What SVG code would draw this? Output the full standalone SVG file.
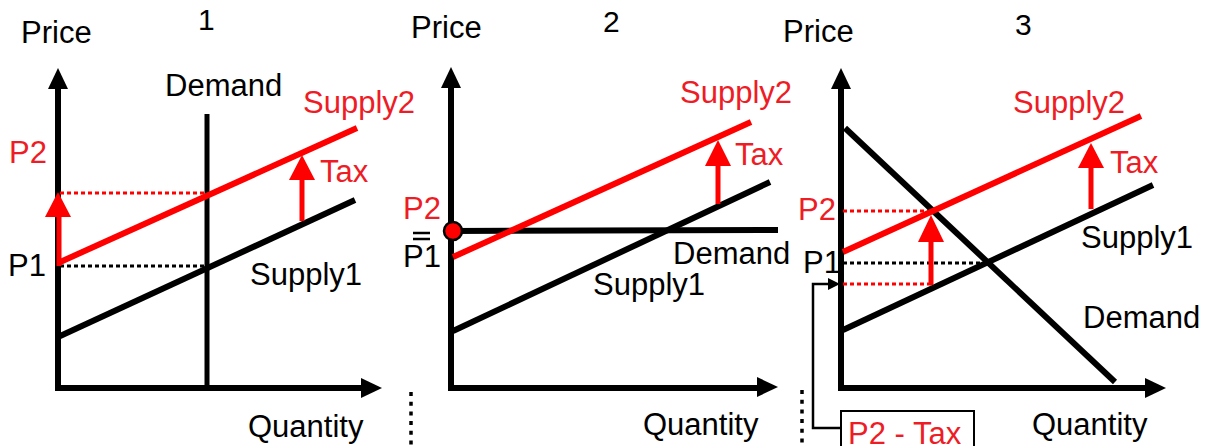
<svg xmlns="http://www.w3.org/2000/svg" width="1218" height="446" viewBox="0 0 1218 446">
<defs>
<style>
text{font-family:"Liberation Sans",Arial,sans-serif;font-size:31px;fill:#000}
.r{fill:#ee1c25}
.num{font-size:30px}
.ax{stroke:#000;stroke-width:6;fill:none}
.bl{stroke:#000;stroke-width:6;fill:none}
.rl{stroke:#ff0000;stroke-width:6;fill:none}
.rs{stroke:#ff0000;stroke-width:5;fill:none}
.dk{stroke:#000;stroke-width:3;stroke-dasharray:4 3;fill:none}
.dr{stroke:#ff0000;stroke-width:3;stroke-dasharray:4 3;fill:none}
.sep{stroke:#000;stroke-width:3.5;stroke-dasharray:4 5.7;fill:none}
.ah{fill:#000}
.rh{fill:#ff0000}
</style>
</defs>
<rect width="1218" height="446" fill="#fff"/>

<g id="panel1">
<text x="21" y="43">Price</text>
<text class="num" x="198" y="30">1</text>
<path class="ax" d="M58,84 V388 H366"/>
<polygon class="ah" points="58,68 48,89 68,89"/>
<polygon class="ah" points="382,388 361,378 361,398"/>
<line class="bl" x1="207" y1="114" x2="207" y2="388" style="stroke-width:5"/>
<line class="dr" x1="60" y1="193" x2="207" y2="193"/>
<line class="dk" x1="60" y1="266" x2="207" y2="266"/>
<line class="bl" x1="58" y1="337" x2="355" y2="200"/>
<line class="rl" x1="58" y1="263" x2="357" y2="128"/>
<line class="rs" x1="59" y1="266" x2="59" y2="214"/>
<polygon class="rh" points="58,192 45,217 71,217"/>
<line class="rs" x1="302" y1="221" x2="302" y2="178"/>
<polygon class="rh" points="302,155 289,180 315,180"/>
<text x="165" y="96">Demand</text>
<text class="r" x="303" y="113">Supply2</text>
<text class="r" x="9" y="163">P2</text>
<text class="r" x="320" y="182">Tax</text>
<text x="8" y="276">P1</text>
<text x="250" y="285">Supply1</text>
<text x="248" y="437">Quantity</text>
</g>

<g id="panel2">
<text x="411" y="38">Price</text>
<text class="num" x="603" y="32">2</text>
<path class="ax" d="M451,83 V388 H762"/>
<polygon class="ah" points="451,67 441,88 461,88"/>
<polygon class="ah" points="778,387 757,377 757,397"/>
<line class="bl" x1="451" y1="231" x2="778" y2="230"/>
<line class="bl" x1="453" y1="331" x2="770" y2="182"/>
<line class="rl" x1="453" y1="257" x2="751" y2="122"/>
<line class="rs" x1="718" y1="204" x2="718" y2="162"/>
<polygon class="rh" points="718,140 705,166 731,166"/>
<circle cx="453" cy="231" r="9" fill="#ff0000" stroke="#000" stroke-width="2.5"/>
<text class="r" x="680" y="103">Supply2</text>
<text class="r" x="735" y="165">Tax</text>
<text class="r" x="403" y="219">P2</text>
<line x1="413" y1="233" x2="430" y2="233" stroke="#000" stroke-width="2.5"/>
<line x1="413" y1="239" x2="430" y2="239" stroke="#000" stroke-width="2.5"/>
<text x="403" y="267">P1</text>
<text x="673" y="264">Demand</text>
<text x="593" y="295">Supply1</text>
<text x="643" y="435">Quantity</text>
</g>

<g id="panel3">
<text x="783" y="42">Price</text>
<text class="num" x="1015" y="35">3</text>
<path class="ax" d="M841,84 V388 H1150"/>
<polygon class="ah" points="841,68 831,89 851,89"/>
<polygon class="ah" points="1166,388 1145,378 1145,398"/>
<line class="dr" x1="843" y1="211" x2="931" y2="211"/>
<line class="dk" x1="843" y1="263" x2="987" y2="263"/>
<line class="dr" x1="843" y1="284" x2="931" y2="284"/>
<line class="bl" x1="845" y1="128" x2="1115" y2="382"/>
<line class="bl" x1="843" y1="330" x2="1153" y2="185"/>
<line class="rl" x1="843" y1="252" x2="1141" y2="116"/>
<line class="rs" x1="1091" y1="209" x2="1091" y2="165"/>
<polygon class="rh" points="1091,143 1078,168 1104,168"/>
<line class="rs" x1="931" y1="285" x2="931" y2="240"/>
<polygon class="rh" points="931,215 918,242 944,242"/>
<text class="r" x="1013" y="113">Supply2</text>
<text class="r" x="1110" y="173">Tax</text>
<text class="r" x="798" y="220">P2</text>
<text x="803" y="273">P1</text>
<text x="1081" y="248">Supply1</text>
<text x="1083" y="328">Demand</text>
<text x="1032" y="435">Quantity</text>
</g>

<g id="p2tax">
<rect x="841" y="411" width="133" height="40" fill="#fff" stroke="#000" stroke-width="2"/>
<text class="r" x="848" y="444">P2 - Tax</text>
</g>

<g id="connectors">
<polyline points="840,428 813,428 813,284 830,284" fill="none" stroke="#000" stroke-width="2.5"/>
<polygon class="ah" points="840,284 828,278 828,290"/>
<line class="sep" x1="411" y1="392" x2="411" y2="446"/>
<line class="sep" x1="802" y1="390" x2="802" y2="446"/>
</g>
</svg>
